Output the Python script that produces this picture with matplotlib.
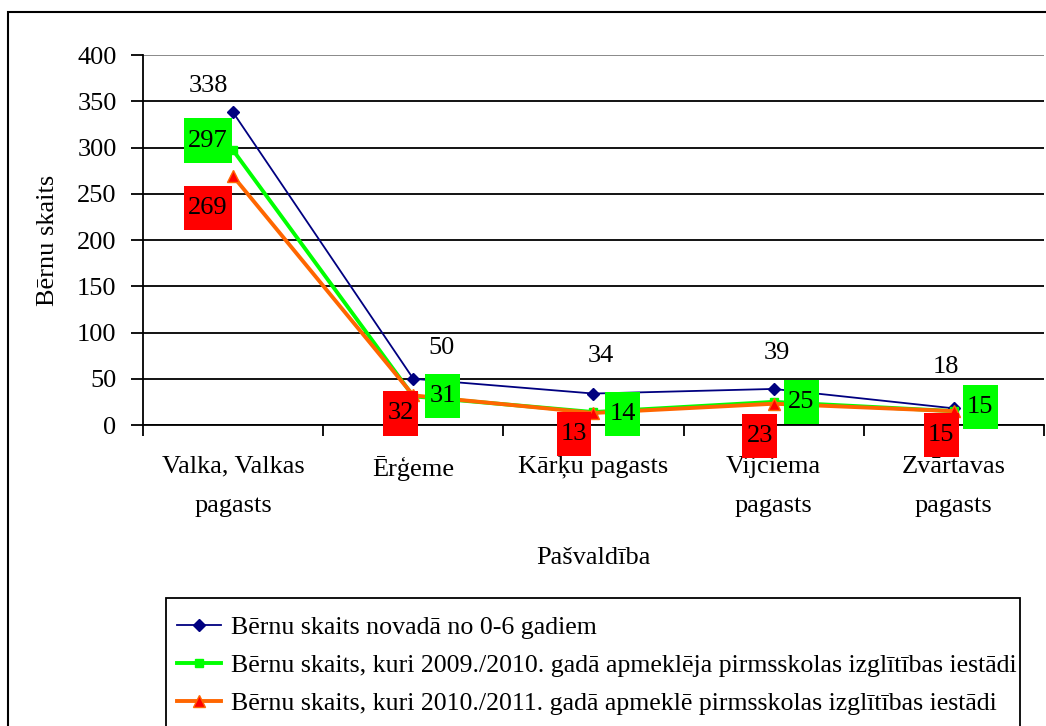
import numpy as np
import matplotlib.pyplot as plt
from matplotlib.path import Path
from matplotlib.patches import Rectangle

plt.rcParams['font.family'] = ['Liberation Serif', 'DejaVu Serif']

categories = ['Valka, Valkas\npagasts', 'Ērģeme', 'Kārķu pagasts', 'Vijciema\npagasts', 'Zvārtavas\npagasts']
total_0_6 = [338, 50, 34, 39, 18]
attended_2009 = [297, 31, 14, 25, 15]
attended_2010 = [269, 32, 13, 23, 15]

labels = ['Bērnu skaits novadā no 0-6 gadiem',
          'Bērnu skaits, kuri 2009./2010. gadā apmeklēja pirmsskolas izglītības iestādi',
          'Bērnu skaits, kuri 2010./2011. gadā apmeklē pirmsskolas izglītības iestādi']

# label offsets (points) for each data label
off_blue = [(-18, 19), (20, 22), (5, 27), (2, 26), (-6, 30)]
off_green = [(-18, 7), (21, 0), (21, -1.5), (20, 0), (19, 3)]
off_red = [(-18, -23), (-9, -13), (-14, -15), (-10, -23), (-9, -17)]

FS = 19


def tall_box(x0, y0, width, height, mutation_scale):
    px = 0.16 * mutation_scale
    py = 0.42 * mutation_scale
    x1, y1 = x0 - px, y0 - py
    x2, y2 = x0 + width + px, y0 + height + py
    return Path([(x1, y1), (x2, y1), (x2, y2), (x1, y2), (x1, y1)], closed=True)


fig = plt.figure(figsize=(10.46, 7.26), dpi=100)
ax = fig.add_axes([0.1367, 0.4146, 0.8613, 0.5096])

# outer chart frame (only top and left visible)
fig.patches.append(Rectangle((8 / 1046, -0.05), 1.1, 1 - 12 / 726 + 0.05, transform=fig.transFigure,
                             fill=False, edgecolor='black', linewidth=1.5))
# legend frame (runs off the bottom of the picture)
fig.patches.append(Rectangle((166 / 1046, -0.05), (1020 - 166) / 1046, 1 - 598 / 726 + 0.05,
                             transform=fig.transFigure, fill=False, edgecolor='black', linewidth=1.3))

x = np.arange(len(categories))
ax.plot(x, total_0_6, color='#000080', lw=1.3, marker='D', ms=6, label=labels[0], zorder=3)
ax.plot(x, attended_2009, color='#00FF00', lw=2.8, marker='s', ms=6, label=labels[1], zorder=4)
ax.plot(x, attended_2010, color='#FF6600', lw=2.8, marker='^', ms=8, mfc='#FF0000', mec='#FF6600',
        label=labels[2], zorder=5)

for i in range(len(x)):
    ax.annotate(str(total_0_6[i]), (x[i], total_0_6[i]), xytext=off_blue[i], textcoords='offset points',
                ha='center', va='center', fontsize=FS, zorder=6)
    ax.annotate(str(attended_2009[i]), (x[i], attended_2009[i]), xytext=off_green[i],
                textcoords='offset points', ha='center', va='center', fontsize=FS, zorder=6,
                bbox=dict(boxstyle=tall_box, fc='#00FF00', ec='none'))
    ax.annotate(str(attended_2010[i]), (x[i], attended_2010[i]), xytext=off_red[i],
                textcoords='offset points', ha='center', va='center', fontsize=FS, zorder=6,
                bbox=dict(boxstyle=tall_box, fc='#FF0000', ec='none'))

ax.set_xlim(-0.5, len(x) - 0.5)
ax.set_ylim(0, 400)
ax.set_yticks(np.arange(0, 401, 50))
ax.set_xticks(x)
ax.set_xticklabels(categories, fontsize=FS, linespacing=2.05)
ax.set_xticks(np.arange(-0.5, len(x)), minor=True)
ax.tick_params(axis='x', which='major', length=0, pad=22)
ax.tick_params(axis='x', which='minor', length=8, width=1.3, direction='out')
ax.tick_params(axis='y', length=9, width=1.3, direction='out', labelsize=FS, pad=10)
ax.grid(axis='y', color='black', lw=1.3)
ax.get_ygridlines()[-1].set_color('#808080')
ax.set_axisbelow(True)
for s in ['top', 'right']:
    ax.spines[s].set_visible(False)
for s in ['left', 'bottom']:
    ax.spines[s].set_linewidth(1.3)

ax.set_ylabel('Bērnu skaits', fontsize=FS, labelpad=13)
ax.set_xlabel('Pašvaldība', fontsize=FS, labelpad=21)

leg = fig.legend(loc='upper left', bbox_to_anchor=(159 / 1046, 1 - 598 / 726), fontsize=18.6,
                 frameon=False, handlelength=1.7, handletextpad=0.38,
                 borderpad=0.7, labelspacing=0.58, borderaxespad=0)

fig.savefig('out.png', dpi=100)
